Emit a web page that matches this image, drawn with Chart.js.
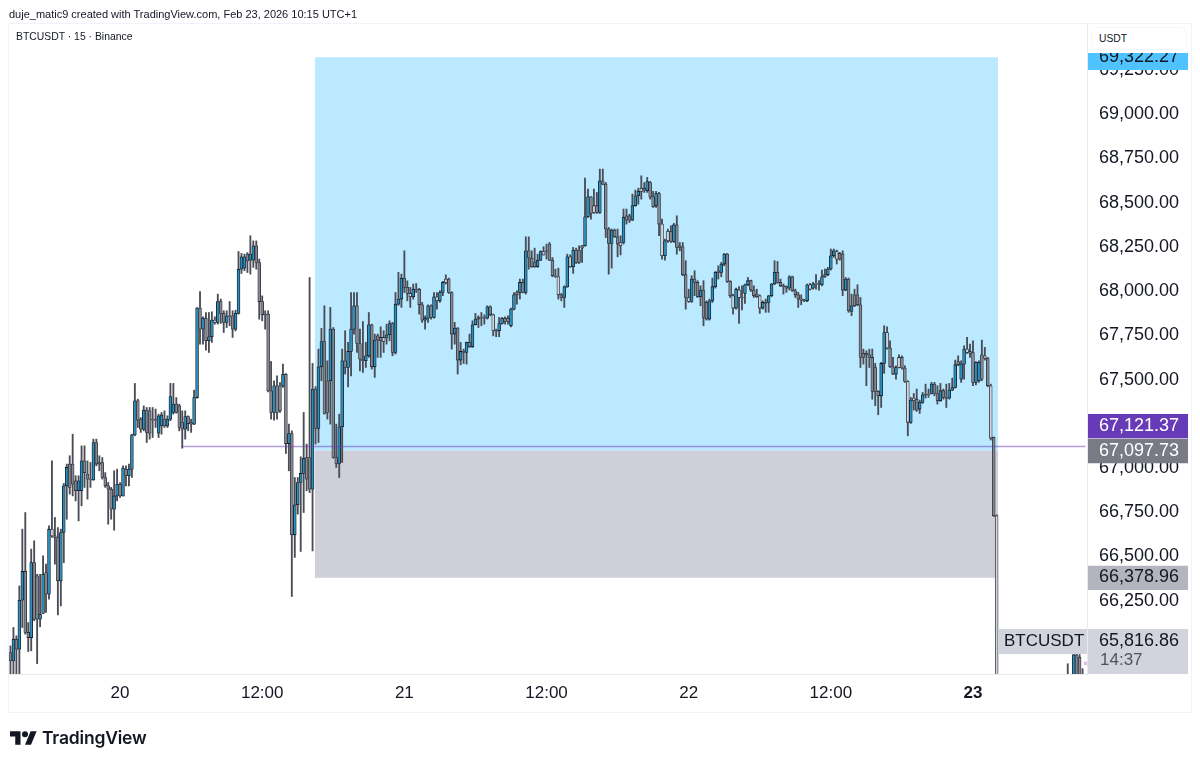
<!DOCTYPE html>
<html>
<head>
<meta charset="utf-8">
<title>BTCUSDT</title>
<script src="https://cdn.jsdelivr.net/npm/chart.js@4"></script>
<style>
  body { margin: 0; background: #fff; font-family: "Liberation Sans", sans-serif; color: #131722; }
  #wrap { position: relative; width: 1200px; height: 764px; overflow: hidden; }
  #frame { position: absolute; left: 8px; top: 23px; width: 1182px; height: 688px; border: 1px solid #f0f3fa; }
  canvas { position: absolute; left: 0; top: 0; }
  #credit { position: absolute; left: 9px; top: 7px; font-size: 11px; line-height: 14px; white-space: nowrap; }
  #symbol { position: absolute; left: 16px; top: 30px; font-size: 10.4px; line-height: 14px; white-space: nowrap; }
  #unit { position: absolute; left: 1091px; top: 27px; width: 87px; height: 21px; padding-left: 7px; border: 1px solid #f5f6fa; border-radius: 6px;
          background: #fff; font-size: 10.3px; line-height: 21px; }
  #logo { position: absolute; left: 10px; top: 731px; }
  #brand { position: absolute; left: 42px; top: 726px; font-family: Inter, sans-serif; font-weight: 600; font-size: 17.5px; line-height: 24px; letter-spacing: -0.2px; }
</style>
</head>
<body>
<div id="wrap">
  <div id="frame"></div>
  <canvas id="chart" width="1200" height="764"></canvas>
  <div id="credit">duje_matic9 created with TradingView.com, Feb 23, 2026 10:15 UTC+1</div>
  <div id="symbol">BTCUSDT · 15 · Binance</div>
  <div id="unit">USDT</div>
  <svg id="logo" width="27" height="14" viewBox="0 4 36 18"><path d="M14 22H7V11H0V4h14v18zM28 22h-8l7.5-18h8L28 22z" fill="#131722"/><circle cx="20" cy="8" r="4" fill="#131722"/></svg>
  <div id="brand">TradingView</div>
</div>
<script>
// 15 minute candles. Nulls are the bars that sit below the visible range.
const opens = [
  65956,65909,66032,65975,66252,66415,66070,66041,66465,66390,
  66145,66177,66409,66286,66654,66616,66607,66362,66635,66899,
  67022,67022,66927,66871,66871,67040,66965,66937,66932,67144,
  67031,67031,66946,66899,66880,66767,66842,66908,66842,66993,
  66956,66993,67187,67380,67276,67219,67327,67323,67276,67276,
  67197,67238,67276,67238,67276,67314,67361,67351,67257,67219,
  67291,67257,67248,67398,67904,67785,67847,67719,67742,67836,
  67823,67941,67874,67823,67860,67860,67785,67874,68124,68130,
  68209,68175,68175,68256,68162,67941,67870,67870,67436,67314,
  67464,67464,67464,67530,67138,67195,66622,66792,66918,66969,
  67059,67059,66880,67446,67223,67572,67715,67493,67493,67785,
  67059,67025,67233,67606,67568,67659,67785,67917,67704,67615,
  67606,67634,67810,67572,67747,67738,67738,67738,67753,67817,
  67653,67926,67955,68072,68021,67987,67968,68011,68011,67923,
  67836,67847,67917,67851,67968,67945,67992,68068,68068,67992,
  67757,67791,67610,67659,67653,67710,67685,67810,67851,67851,
  67851,67847,67911,67866,67778,67776,67817,67847,67847,67804,
  67898,67992,67992,68049,67992,68228,68187,68162,68138,68175,
  68224,68228,68266,68175,68087,68081,67979,67964,68024,68194,
  68138,68232,68232,68256,68256,68420,68533,68483,68483,68445,
  68624,68605,68351,68270,68345,68307,68275,68275,68426,68426,
  68401,68483,68539,68582,68582,68567,68614,68533,68483,68552,
  68379,68200,68338,68338,68281,68375,68256,68251,68093,67964,
  67942,68068,68049,67968,68006,67936,67842,67945,68025,68115,
  68106,68153,68209,68055,67974,67904,68006,67966,67987,68036,
  68059,68006,67983,67974,67904,67936,67936,67974,68040,68106,
  68049,68030,68025,68017,68081,68002,67979,67955,67949,67945,
  68036,68017,68044,68042,68036,68093,68093,68125,68200,68224,
  68213,68209,68006,68068,67885,67979,67979,67923,67648,67648,
  67640,67625,67568,67433,67408,67591,67766,67678,67572,67531,
  67625,67625,67565,67489,67258,67395,67389,67333,67371,67416,
  67418,67421,67474,67421,67380,67437,67399,67395,67440,67455,
  67602,67502,67587,67672,67659,67653,67484,67493,67640,67634,
  67621,67465,67173,66730,
  null,null,null,null,null,null,null,null,null,null,null,null,null,null,null,null,null,null,null,null,null,null,null,
  65800,null,65700,65944,65930,65760,null
];
const highs = [
  65994,66098,66051,66333,66654,66748,66126,66541,66588,66399,
  66399,66503,66456,66673,67040,66720,66663,66654,66912,67022,
  67069,67191,66956,66956,67125,67125,67040,67031,67163,67163,
  67069,67059,66974,66918,66890,66984,66993,66918,67012,67012,
  67022,67191,67478,67389,67285,67351,67342,67342,67342,67333,
  67304,67314,67323,67295,67478,67478,67398,67361,67323,67323,
  67295,67276,67440,67907,67998,67855,67879,67879,67883,67855,
  67983,67955,67889,67889,67941,67889,67892,68224,68213,68209,
  68218,68313,68284,68284,68181,67973,67889,67889,67602,67493,
  67521,67483,67587,67534,67248,67210,66946,66946,67063,67314,
  67135,68077,67591,67460,67672,67789,67917,67606,67908,67794,
  67248,67304,67672,67776,67710,67992,67992,67992,67785,67828,
  67710,67879,67813,67757,67757,67798,67776,67813,67832,67823,
  67992,68106,68096,68228,68058,68021,68040,68043,68015,67936,
  67860,67923,67923,67992,67992,68002,68055,68092,68074,67996,
  67823,67794,67710,67672,67712,67757,67832,67874,67860,67879,
  67866,67917,67917,67870,67785,67851,67851,67855,67860,67904,
  67992,68002,68068,68068,68307,68307,68228,68243,68209,68228,
  68251,68266,68275,68190,68124,68130,67987,68030,68209,68205,
  68247,68243,68256,68259,68639,68577,68535,68577,68558,68690,
  68690,68614,68360,68351,68351,68351,68313,68464,68464,68435,
  68549,68571,68582,68652,68614,68643,68620,68564,68564,68558,
  68407,68294,68351,68370,68383,68426,68275,68275,68172,68011,
  68087,68115,68059,68030,68059,67945,67955,68074,68111,68143,
  68162,68213,68213,68059,67983,68017,68025,68030,68040,68077,
  68062,68030,68011,67979,67945,67955,67976,68044,68172,68168,
  68068,68040,68030,68087,68085,68011,67993,67979,67955,68040,
  68044,68049,68093,68059,68119,68125,68134,68238,68238,68232,
  68219,68228,68077,68074,67983,68011,68036,67964,67672,67663,
  67672,67672,67591,67437,67597,67804,67798,67719,67625,67578,
  67640,67634,67578,67493,67399,67421,67446,67384,67427,67474,
  67446,67484,67484,67465,67478,67446,67474,67478,67508,67610,
  67634,67606,67691,67738,67700,67719,67602,67606,67723,67682,
  67625,67474,67175,66735,
  null,null,null,null,null,null,null,null,null,null,null,null,null,null,null,null,null,null,null,null,null,null,null,
  65893,null,65950,65950,65945,65865,null
];
const lows = [
  65834,65834,65834,65800,66098,66060,65962,65966,66136,65894,
  66102,66177,66183,66258,66607,66456,66169,66220,66465,66710,
  66852,66842,66814,66701,66786,66890,66824,66890,66930,67012,
  66984,66937,66890,66682,66710,66648,66814,66833,66840,66899,
  66899,66946,67182,67229,67201,67210,67144,67163,67172,67229,
  67172,67191,67229,67229,67267,67304,67310,67210,67112,67163,
  67210,67201,67245,67395,67700,67700,67666,67653,67710,67813,
  67813,67817,67766,67794,67804,67738,67775,67870,68100,68115,
  68105,68096,68134,68124,67841,67832,67785,67430,67276,67270,
  67276,67314,67455,67082,66984,66273,66494,66739,66528,66748,
  66871,66861,66531,67135,67144,67493,67304,67276,67248,67055,
  67003,66946,67031,67531,67459,67521,67757,67653,67549,67540,
  67568,67625,67559,67512,67625,67625,67653,67700,67719,67634,
  67644,67920,67908,67992,67945,67908,67955,67992,67870,67823,
  67785,67823,67842,67847,67898,67936,67974,68040,67987,67672,
  67700,67531,67583,67591,67587,67681,67681,67808,67794,67804,
  67813,67842,67860,67747,67742,67742,67813,67813,67813,67798,
  67893,67926,67955,67990,67983,68124,68134,68134,68134,68172,
  68203,68181,68172,68081,68077,67955,67945,67908,68021,68134,
  68100,68156,68156,68162,68254,68417,68407,68439,68439,68439,
  68601,68303,68096,68130,68303,68194,68205,68266,68379,68388,
  68398,68480,68492,68520,68558,68558,68520,68473,68473,68313,
  68181,68175,68275,68275,68275,68209,68228,68087,67898,67936,
  67936,67974,67964,67917,67804,67836,67836,67936,68017,68068,
  68081,68143,68049,67964,67870,67898,67817,67893,67930,68030,
  67998,67964,67964,67874,67898,67880,67880,67968,68036,68044,
  68025,67983,67993,68006,67998,67964,67908,67923,67940,67940,
  68006,68011,68011,68006,68030,68077,68087,68119,68191,68153,
  68175,67974,68002,67880,67861,67912,67917,67568,67587,67465,
  67568,67389,67352,67301,67342,67535,67672,67568,67527,67502,
  67565,67559,67484,67182,67252,67327,67320,67308,67365,67395,
  67399,67418,67408,67361,67376,67389,67342,67389,67437,67452,
  67578,67484,67502,67648,67625,67465,67470,67484,67493,67610,
  67459,67158,66725,65700,
  null,null,null,null,null,null,null,null,null,null,null,null,null,null,null,null,null,null,null,null,null,null,null,
  65700,null,65650,65700,65700,65700,null
];
const closes = [
  65909,66032,65975,66252,66415,66070,66041,66465,66145,66145,
  66173,66399,66286,66654,66616,66607,66362,66635,66899,67003,
  66890,66908,66871,66927,67040,66974,66937,66932,67144,67022,
  67022,66946,66899,66880,66767,66842,66908,66842,66999,66956,
  66993,67187,67380,67270,67219,67327,67201,67197,67270,67270,
  67295,67300,67238,67276,67404,67361,67314,67229,67219,67291,
  67251,67248,67398,67904,67785,67847,67719,67742,67836,67823,
  67941,67874,67823,67860,67855,67785,67874,68124,68194,68194,
  68171,68209,68256,68162,67941,67866,67866,67436,67314,67464,
  67314,67323,67530,67138,67195,66622,66792,66918,66969,67055,
  66937,66880,67446,67223,67572,67715,67308,67314,67785,67059,
  67025,67233,67606,67568,67659,67785,67917,67704,67615,67606,
  67634,67810,67572,67723,67723,67719,67715,67753,67817,67653,
  67926,67955,68072,68021,67987,67968,68011,68008,67923,67836,
  67847,67917,67851,67968,67945,67992,68049,68049,67992,67757,
  67791,67610,67659,67653,67710,67685,67810,67842,67842,67847,
  67847,67911,67866,67776,67774,67817,67847,67828,67828,67898,
  67979,67979,68049,67992,68228,68187,68138,68138,68175,68224,
  68205,68224,68175,68087,68083,67979,67964,68024,68194,68138,
  68232,68162,68162,68243,68420,68533,68439,68445,68445,68624,
  68605,68351,68270,68345,68307,68266,68256,68417,68401,68401,
  68483,68539,68564,68564,68571,68620,68533,68477,68552,68379,
  68200,68285,68285,68281,68375,68247,68247,68093,67964,67942,
  68068,68049,67968,68006,67851,67842,67945,68025,68106,68106,
  68153,68209,68055,67974,67904,68011,67964,67962,68036,68059,
  68006,67974,67968,67904,67936,67930,67974,68040,68106,68049,
  68030,68025,68017,68081,68002,67979,67955,67949,67945,68036,
  68011,68040,68040,68038,68081,68081,68125,68200,68228,68181,
  68181,68006,68068,67889,67917,67917,67923,67625,67625,67640,
  67625,67433,67433,67408,67591,67766,67678,67572,67531,67568,
  67568,67565,67489,67258,67384,67380,67327,67371,67414,67412,
  67414,67474,67421,67380,67437,67399,67395,67440,67455,67584,
  67584,67587,67672,67653,67648,67484,67597,67597,67502,67621,
  67465,67169,66730,65760,
  null,null,null,null,null,null,null,null,null,null,null,null,null,null,null,null,null,null,null,null,null,null,null,
  65780,null,65944,65780,65760,65740,null
];

// Down bars whose light fill still shows in the picture
const hollowBars = [14,69,119,126,135,144,147,163,180,185,189,197,206,213,220,222,229,244,246,253,270,279,296,300,303,305,323,329,331,333];

const timeTickLabels = ['20', '12:00', '21', '12:00', '22', '12:00', '23'];
const timeTickBars = [37, 85, 133, 181, 229, 277, 325];
const priceTicks = [69250, 69000, 68750, 68500, 68250, 68000, 67750, 67500, 67250, 67000, 66750, 66500, 66250];

const alertPrice = 67121.37;
const alertStartBar = 58;
const boxTop = 69322.27;
const boxMiddle = 67097.73;
const boxBottom = 66378.96;
const boxFirstBar = 102.8;
const boxLastBar = 333.45;
const lastMarkPrice = 65895;

const categories = opens.map((_, i) => i);

const wicks = categories.map(i => highs[i] == null ? null : [lows[i], highs[i]]);
const bodies = categories.map(i => opens[i] == null ? null : [opens[i], closes[i]]);
const isUp = categories.map(i => closes[i] > opens[i]);
const alertLine = categories.map(i => i >= alertStartBar ? alertPrice : null);
const lastMark = categories.map(i => i === categories.length - 1 ? lastMarkPrice : null);

function bodyColor(i) {
  if (isUp[i]) return '#2a8fbd';
  return hollowBars.includes(i) ? '#d4d5da' : '#85888f';
}

// Long / short position boxes sit under the candles
const boxesPlugin = {
  id: 'boxes',
  beforeDatasetsDraw(chart) {
    const { ctx, scales: { x, y } } = chart;
    const left = x.getPixelForValue(boxFirstBar);
    const right = x.getPixelForValue(boxLastBar);
    ctx.save();
    ctx.fillStyle = '#bbe9ff';
    ctx.fillRect(left, y.getPixelForValue(boxTop), right - left, y.getPixelForValue(boxMiddle) - y.getPixelForValue(boxTop));
    ctx.fillStyle = '#cfcfd9';
    ctx.fillRect(left, y.getPixelForValue(boxMiddle), right - left, y.getPixelForValue(boxBottom) - y.getPixelForValue(boxMiddle));
    ctx.restore();
  }
};

// Price tags on the axis
const tags = [
  { text: '69,322.27', top: 53, bottom: 70, textY: 57, bg: '#4fc3ff', color: '#131722' },
  { text: '67,121.37', top: 414, bottom: 438.5, textY: 426.5, bg: '#673ab7', color: '#ffffff' },
  { text: '67,097.73', top: 438.5, bottom: 463.5, textY: 451, bg: '#787b86', color: '#ffffff' },
  { text: '66,378.96', top: 565.5, bottom: 590, textY: 577.5, bg: '#b2b5be', color: '#131722' },
  { text: '65,816.86', top: 629, bottom: 674, textY: 641, bg: '#d1d4dc', color: '#131722' }
];

const tagsPlugin = {
  id: 'tags',
  afterDraw(chart) {
    const ctx = chart.ctx;
    ctx.save();
    ctx.font = '18px "Liberation Sans"';
    ctx.textBaseline = 'middle';
    tags.forEach(t => {
      ctx.save();
      ctx.beginPath();
      ctx.rect(1088, t.top, 100, t.bottom - t.top);
      ctx.clip();
      ctx.fillStyle = t.bg;
      ctx.fillRect(1088, t.top, 100, t.bottom - t.top);
      ctx.fillStyle = t.color;
      ctx.fillText(t.text, 1099, t.textY);
      ctx.restore();
    });
    ctx.fillStyle = '#d1d4dc';
    ctx.fillRect(998, 629, 89, 25);
    ctx.fillStyle = '#131722';
    ctx.font = '17px "Liberation Sans"';
    ctx.fillText('BTCUSDT', 1004, 641.5);
    ctx.fillStyle = '#50535e';
    ctx.fillText('14:37', 1100, 660.5);
    ctx.restore();
  }
};

new Chart(document.getElementById('chart'), {
  data: {
    labels: categories,
    datasets: [
      { type: 'line', data: alertLine, borderColor: 'rgba(103,58,183,0.5)', borderWidth: 1.6, pointRadius: 0, order: 0 },
      { type: 'line', data: lastMark, showLine: false, pointStyle: 'rect', pointRadius: 2.5, pointBackgroundColor: '#e1bee7', pointBorderWidth: 0, order: 3 },
      {
        type: 'bar', data: bodies, grouped: false, barThickness: 2.9, borderSkipped: false, borderWidth: 0.8,
        borderColor: categories.map(i => isUp[i] ? '#14171f' : '#2a2e39'),
        backgroundColor: categories.map(bodyColor),
        order: 1
      },
      { type: 'bar', data: wicks, grouped: false, barThickness: 1.2, backgroundColor: '#4a4d55', borderWidth: 0, order: 2 }
    ]
  },
  options: {
    responsive: false,
    animation: false,
    events: [],
    layout: { padding: { left: 9, top: 23, right: 9, bottom: 52 } },
    plugins: { legend: { display: false }, tooltip: { enabled: false } },
    scales: {
      x: {
        offset: true,
        grid: { display: false },
        border: { color: '#e8eaf0' },
        afterFit(scale) { scale.height = 38; },
        afterBuildTicks(scale) { scale.ticks = timeTickBars.map(value => ({ value })); },
        ticks: {
          autoSkip: false, maxRotation: 0, padding: 1, color: '#131722',
          font: ctx => ({ family: '"Liberation Sans"', size: 17, weight: ctx.index === 6 ? 'bold' : 'normal' }),
          callback: (value, index) => timeTickLabels[index]
        }
      },
      y: {
        position: 'right',
        min: 65835,
        max: 69516,
        grid: { display: false },
        border: { color: '#e8eaf0' },
        afterFit(scale) { scale.width = 104; },
        afterBuildTicks(scale) { scale.ticks = priceTicks.map(value => ({ value })); },
        ticks: {
          padding: 4, color: '#131722',
          font: { family: '"Liberation Sans"', size: 18 },
          callback: value => value.toLocaleString('en-US', { minimumFractionDigits: 2 })
        }
      }
    }
  },
  plugins: [boxesPlugin, tagsPlugin]
});
</script>
</body>
</html>
